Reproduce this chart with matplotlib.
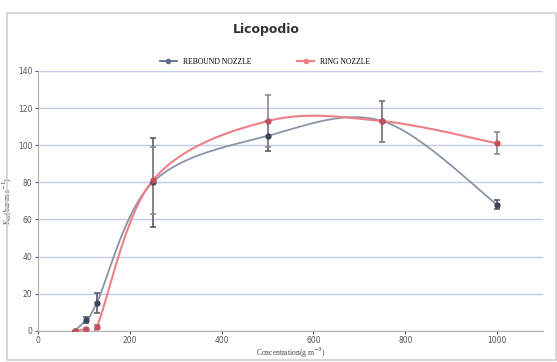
import numpy as np
import matplotlib.pyplot as plt
from matplotlib.patches import Rectangle

# datos
conc = [80, 105, 128, 250, 500, 750, 1000]
rebound = [0, 6, 15, 80, 105, 113, 68]
rebound_err = [0, 1.5, 5.5, 24, 8, 11, 2.5]
ring = [0, 1, 2, 81, 113, 113, 101]
ring_err = [0, 0.5, 1, 18, 14, 11, 6]


def smooth(x, y, n=30):
    # curva suavizada estilo Excel (bezier con tangentes catmull-rom)
    x = np.asarray(x, float)
    y = np.asarray(y, float)
    px = np.r_[x[0], x, x[-1]]
    py = np.r_[y[0], y, y[-1]]
    xs, ys = [], []
    t = np.linspace(0, 1, n)
    for i in range(len(x) - 1):
        p0 = np.array([x[i], y[i]])
        p3 = np.array([x[i + 1], y[i + 1]])
        p1 = p0 + (np.array([px[i + 2], py[i + 2]]) - np.array([px[i], py[i]])) / 6
        p2 = p3 - (np.array([px[i + 3], py[i + 3]]) - np.array([px[i + 1], py[i + 1]])) / 6
        b = ((1 - t) ** 3)[:, None] * p0 + (3 * (1 - t) ** 2 * t)[:, None] * p1 \
            + (3 * (1 - t) * t ** 2)[:, None] * p2 + (t ** 3)[:, None] * p3
        xs.extend(b[:, 0])
        ys.extend(b[:, 1])
    return xs, ys


fig = plt.figure(figsize=(5.57, 3.62), dpi=100)
fig.patches.append(Rectangle((0.013, 0.005), 0.985, 0.958, transform=fig.transFigure,
                             fill=False, edgecolor='#d0d0d0', linewidth=1.2))
ax = fig.add_axes([0.068, 0.086, 0.907, 0.718])

blue = '#5d6d8a'
red = '#ef7f86'

sx, sy = smooth(conc, rebound)
ax.plot(sx, sy, color='#8a94a8', lw=1.3, zorder=3)
ax.errorbar(conc, rebound, yerr=rebound_err, fmt='o', ms=3.5, color='#3d4459',
            ecolor='#5a5e6a', elinewidth=1.2, capsize=2, capthick=1.2, zorder=4)
ax.plot([], [], color=blue, marker='o', ms=3, lw=1.3, label='REBOUND NOZZLE')

sx, sy = smooth(conc, ring)
ax.plot(sx, sy, color=red, lw=1.5, zorder=3)
ax.errorbar(conc, ring, yerr=ring_err, fmt='o', ms=3.5, color='#c4505a',
            ecolor='#8a8a90', elinewidth=1.2, capsize=2, capthick=1.2, zorder=4)
ax.plot([], [], color=red, marker='o', ms=3, lw=1.5, label='RING NOZZLE')

ax.set_xlim(0, 1100)
ax.set_ylim(0, 140)
ax.set_xticks([0, 200, 400, 600, 800, 1000])
ax.set_yticks(range(0, 141, 20))
ax.tick_params(labelsize=5.5, colors='#555555', length=2, pad=2)
ax.grid(axis='y', color='#c3cbe6', lw=1)
ax.set_axisbelow(True)
for s in ['top', 'right']:
    ax.spines[s].set_visible(False)
for s in ['left', 'bottom']:
    ax.spines[s].set_color('#b0b0b0')

ax.set_xlabel('Concentration(g m$^{-3}$)', fontsize=5.5, color='#444444', labelpad=0,
              family='Liberation Serif')
ax.set_ylabel('K$_{st}$(bar m s$^{-1}$)', fontsize=5.5, color='#444444', labelpad=2,
              family='Liberation Serif')

fig.text(0.478, 0.91, 'Licopodio', fontsize=9, fontweight='bold', ha='center',
         color='#333333')
ax.legend(loc='center', bbox_to_anchor=(0.45, 1.035), ncol=2, frameon=False,
          prop={'family': 'Liberation Serif', 'size': 5.5},
          handlelength=2.2, columnspacing=6)

fig.savefig('out.png', dpi=100)
